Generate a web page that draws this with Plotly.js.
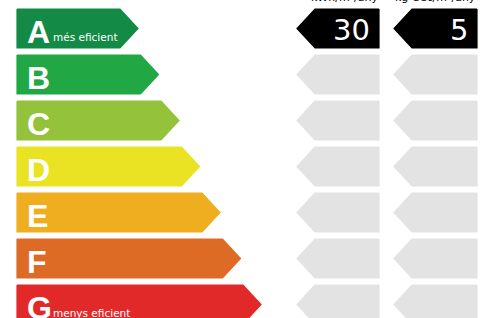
<!DOCTYPE html>
<html>
<head>
<meta charset="utf-8">
<script src="https://cdn.plot.ly/plotly-3.0.1.min.js"></script>
<style>html,body{margin:0;padding:0;background:#fff;}#chart{width:490px;height:318px;}</style>
</head>
<body>
<div id="chart"></div>
<script>
// ---- data ----
var classes = ['A', 'B', 'C', 'D', 'E', 'F', 'G'];
var classNotes = ['més eficient', '', '', '', '', '', 'menys eficient'];
var classColors = ['#138a46', '#21a845', '#94c23a', '#e9e323', '#eeae1f', '#dd6b26', '#e2292a'];
var columnHeaders = ['kWh/m²/any', 'kg CO₂/m²/any'];
var columnValues = [30, 5];
var columnClasses = ['A', 'A'];

// ---- geometry (layout only) ----
var W = 490, H = 318;
var rowTop0 = 9, rowPitch = 46, rowH = 39;
var barLeft = 17, tip0 = 138, tipStep = 20.5, tipDepth = 18;
var cols = [{tip: 297, right: 379}, {tip: 394, right: 477}];

var traces = [];
var annotations = [];

classes.forEach(function (c, i) {
  var top = rowTop0 + rowPitch * i, bot = top + rowH, mid = top + rowH / 2;
  var tip = tip0 + tipStep * i, body = tip - tipDepth;
  traces.push({
    type: 'scatter', mode: 'lines', fill: 'toself', fillcolor: classColors[i],
    line: {width: 1.2, color: classColors[i]}, hoverinfo: 'skip', showlegend: false,
    x: [barLeft, body, tip, body, barLeft, barLeft],
    y: [top, top, mid, bot, bot, top]
  });
  annotations.push({
    x: barLeft + 8, y: mid, xref: 'x', yref: 'y', xanchor: 'left', yanchor: 'middle',
    yshift: -3,
    text: '<b>' + c + '</b>', showarrow: false,
    font: {family: 'Liberation Sans, Arial', size: 32, color: '#fff'}
  });
  if (classNotes[i]) {
    annotations.push({
      x: barLeft + 34, y: mid, xref: 'x', yref: 'y', xanchor: 'left', yanchor: 'middle',
      yshift: -8,
      text: classNotes[i], showarrow: false,
      font: {family: 'DejaVu Sans', size: 10.5, color: '#fff'}
    });
  }
  cols.forEach(function (col, k) {
    var rated = columnClasses[k] === c;
    var color = rated ? '#000000' : '#e3e3e3';
    var bl = col.tip + tipDepth;
    traces.push({
      type: 'scatter', mode: 'lines', fill: 'toself', fillcolor: color,
      line: {width: 1.2, color: color}, hoverinfo: 'skip', showlegend: false,
      x: [col.right, bl, col.tip, bl, col.right, col.right],
      y: [top, top, mid, bot, bot, top]
    });
    if (rated) {
      annotations.push({
        x: col.right - 7, y: mid + 1, xref: 'x', yref: 'y', xanchor: 'right', yanchor: 'middle',
        text: String(columnValues[k]), showarrow: false,
        font: {family: 'DejaVu Sans', size: 29, color: '#fff'}
      });
    }
  });
});

cols.forEach(function (col, k) {
  annotations.push({
    x: col.right + 1, y: 6, xref: 'x', yref: 'y', xanchor: 'right', yanchor: 'bottom',
    text: columnHeaders[k], showarrow: false,
    font: {family: 'DejaVu Sans', size: 11, color: '#000'}
  });
});

var layout = {
  width: W, height: H,
  margin: {l: 0, r: 0, t: 0, b: 0, pad: 0},
  paper_bgcolor: '#fff', plot_bgcolor: '#fff',
  xaxis: {range: [0, W], visible: false, fixedrange: true},
  yaxis: {range: [H, 0], visible: false, fixedrange: true},
  annotations: annotations,
  showlegend: false
};

Plotly.newPlot('chart', traces, layout, {staticPlot: true, displayModeBar: false});
</script>
</body>
</html>
